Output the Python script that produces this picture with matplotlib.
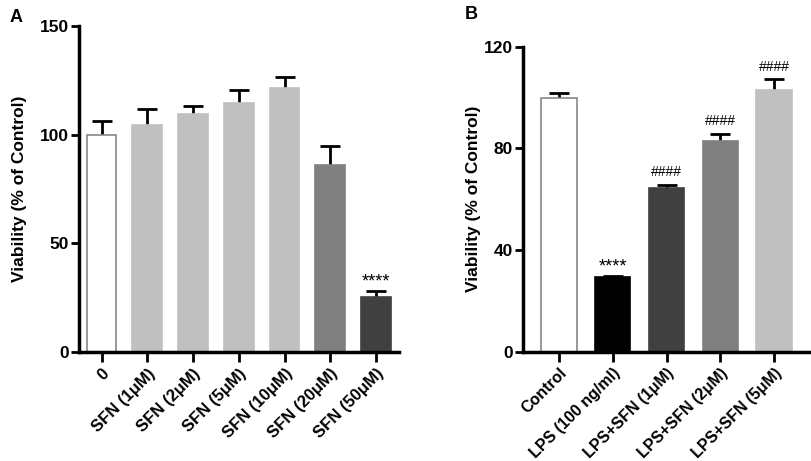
import matplotlib
matplotlib.use('Agg')
import matplotlib.pyplot as plt
import numpy as np

plt.rcParams['font.family'] = ['Liberation Sans', 'DejaVu Sans']

# Panel A: SFN dose response
labels_a = ['0', 'SFN (1μM)', 'SFN (2μM)', 'SFN (5μM)', 'SFN (10μM)', 'SFN (20μM)', 'SFN (50μM)']
means_a = [100, 104.3, 109.5, 114.4, 121.3, 85.9, 25.5]
errs_a = [6.3, 7.5, 3.8, 6.2, 5.4, 8.9, 2.6]
colors_a = ['white', '#c0c0c0', '#c0c0c0', '#c0c0c0', '#c0c0c0', '#808080', '#404040']
marks_a = ['', '', '', '', '', '', '****']

# Panel B: LPS + SFN
labels_b = ['Control', 'LPS (100 ng/ml)', 'LPS+SFN (1μM)', 'LPS+SFN (2μM)', 'LPS+SFN (5μM)']
means_b = [100, 29.5, 64.4, 83.1, 103.0]
errs_b = [1.7, 0.4, 1.2, 2.7, 4.2]
colors_b = ['white', 'black', '#404040', '#808080', '#c0c0c0']
marks_b = ['', '****', '####', '####', '####']

fig = plt.figure(figsize=(8.11, 4.61), dpi=100)
ax1 = fig.add_axes([0.097, 0.2364, 0.395, 0.7072])
ax2 = fig.add_axes([0.6445, 0.237, 0.353, 0.6617])


def draw(ax, labels, means, errs, colors, marks, ymax, yticks, xlim, width, xfs):
    x = np.arange(len(labels))
    edges = ['#888888' if c == 'white' else c for c in colors]
    # error bars sit behind the bars so only the upper half shows
    ax.errorbar(x, means, yerr=errs, fmt='none',
                ecolor='black', elinewidth=2, capsize=7.5, capthick=2, zorder=1)
    ax.bar(x, means, width, color=colors, edgecolor=edges, linewidth=1.2, zorder=2)
    for xi, m, e, t in zip(x, means, errs, marks):
        if t == '****':
            ax.annotate(t, (xi, m + e), xytext=(0, 0), textcoords='offset points',
                        ha='center', va='bottom', fontsize=13)
        elif t:
            ax.annotate(t, (xi, m + e), xytext=(0, 4), textcoords='offset points',
                        ha='center', va='bottom', fontsize=10)
    ax.set_xlim(*xlim)
    ax.set_ylim(0, ymax)
    ax.set_yticks(yticks)
    ax.set_xticks(x)
    ax.set_xticklabels(labels, rotation=45, ha='right', rotation_mode='anchor',
                       fontsize=xfs, fontweight='bold')
    for lab in ax.get_yticklabels():
        lab.set_fontweight('bold')
        lab.set_fontsize(12.5)
    ax.tick_params(axis='both', direction='out', width=2, length=6, pad=1)
    ax.tick_params(axis='x', length=7, pad=3)
    ax.spines['top'].set_visible(False)
    ax.spines['right'].set_visible(False)
    ax.spines['left'].set_linewidth(2.5)
    ax.spines['bottom'].set_linewidth(2.5)
    ax.set_ylabel('Viability (% of Control)', fontsize=12.5, fontweight='bold')


draw(ax1, labels_a, means_a, errs_a, colors_a, marks_a, 150, [0, 50, 100, 150],
     (-0.5, 6.5), 0.65, 12)
draw(ax2, labels_b, means_b, errs_b, colors_b, marks_b, 120, [0, 40, 80, 120],
     (-0.675, 4.65), 0.66, 11.5)
ax1.yaxis.set_label_coords(-0.16, 0.5)
ax2.yaxis.set_label_coords(-0.146, 0.5)

fig.text(0.012, 0.962, 'A', fontsize=13, fontweight='bold', va='center')
fig.text(0.573, 0.968, 'B', fontsize=13, fontweight='bold', va='center')

fig.savefig('out.png', dpi=100, facecolor='white')
